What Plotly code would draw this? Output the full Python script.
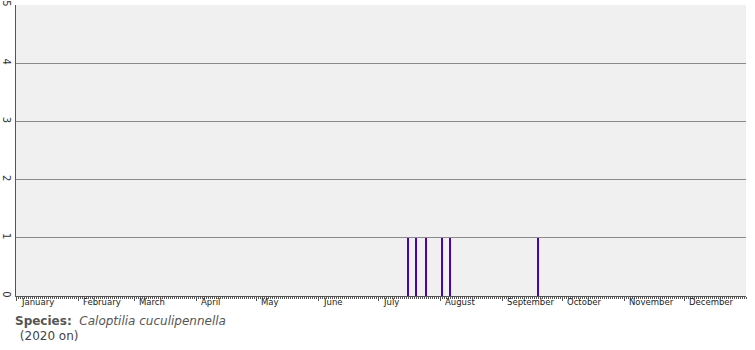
import plotly.graph_objects as go

# Data
months = ["January", "February", "March", "April", "May", "June",
          "July", "August", "September", "October", "November", "December"]
month_starts = ["2021-01-01", "2021-02-01", "2021-03-01", "2021-04-01", "2021-05-01", "2021-06-01",
                "2021-07-01", "2021-08-01", "2021-09-01", "2021-10-01", "2021-11-01", "2021-12-01"]
record_dates = ["2021-07-16", "2021-07-20", "2021-07-25", "2021-08-02", "2021-08-06", "2021-09-19"]
record_counts = [1, 1, 1, 1, 1, 1]
y_ticks = [0, 1, 2, 3, 4, 5]
species = "Caloptilia cuculipennella"
period = "(2020 on)"

DAY = 86400000

fig = go.Figure()
fig.add_trace(go.Bar(
    x=record_dates, y=record_counts,
    width=[0.6 * DAY] * len(record_dates),
    marker=dict(color="#4a00b8", line=dict(width=0)),
    hoverinfo="skip",
))

annotations = []
for m, s in zip(months, month_starts):
    annotations.append(dict(
        x=s, y=0, xref="x", yref="paper", text=m, showarrow=False,
        xanchor="left", yanchor="top", xshift=3, yshift=1,
        font=dict(family="DejaVu Sans", size=8.5, color="#222"),
    ))
annotations.append(dict(
    x=0.0, y=-0.055, xref="paper", yref="paper",
    text="<b>Species:</b>  <i><span style='color:#555'>" + species + "</span></i>",
    showarrow=False, xanchor="left", yanchor="top", xshift=-3,
    font=dict(family="DejaVu Sans", size=12, color="#555"),
))
annotations.append(dict(
    x=0.0, y=-0.108, xref="paper", yref="paper",
    text=" " + period, showarrow=False, xanchor="left", yanchor="top", xshift=-2,
    font=dict(family="DejaVu Sans", size=12, color="#444"),
))

fig.update_layout(
    width=755, height=350,
    margin=dict(l=16, r=9, t=5, b=54, autoexpand=False),
    paper_bgcolor="white", plot_bgcolor="#f0f0f0",
    showlegend=False, bargap=0,
    annotations=annotations,
    xaxis=dict(
        type="date", range=["2021-01-01", "2022-01-01"],
        tickvals=month_starts, ticktext=[""] * len(months),
        ticks="outside", ticklen=4, tickcolor="#555", tickwidth=1,
        minor=dict(dtick=DAY, tick0="2021-01-01", ticks="outside", ticklen=2,
                   tickcolor="#555", tickwidth=1, showgrid=False),
        showgrid=False, showline=True, linecolor="#555", linewidth=1,
        zeroline=False, fixedrange=True, automargin=False,
    ),
    yaxis=dict(
        range=[0, 5], tickvals=y_ticks, ticktext=[str(v) for v in y_ticks],
        tickangle=90, tickfont=dict(family="DejaVu Sans", size=10, color="#333"),
        showgrid=True, gridcolor="#8a8a8a", gridwidth=1,
        showline=True, linecolor="#555", linewidth=1,
        zeroline=False, ticks="", ticklabelstandoff=0, fixedrange=True,
        automargin=False,
    ),
)

fig.write_html("out.html")
